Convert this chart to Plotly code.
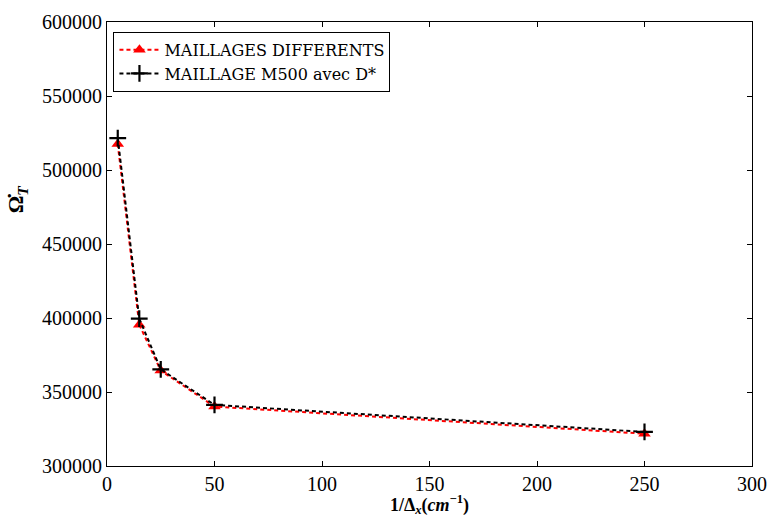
import plotly.graph_objects as go

x_vals = [5, 15, 25, 50, 250]
maillages_diff = [517500, 395500, 364500, 340200, 321800]
maillage_m500 = [521600, 399600, 365300, 341300, 323000]
x_ticks = [0, 50, 100, 150, 200, 250, 300]
y_ticks = [300000, 350000, 400000, 450000, 500000, 550000, 600000]

serif = "Liberation Serif"
legend_font = "DejaVu Serif"

fig = go.Figure()
fig.add_trace(go.Scatter(
    x=x_vals, y=maillages_diff, mode="lines+markers",
    name="MAILLAGES DIFFERENTS",
    line=dict(color="red", width=2, dash="4px,3px"),
    marker=dict(symbol="triangle-up", size=11, color="red"),
))
fig.add_trace(go.Scatter(
    x=x_vals, y=maillage_m500, mode="lines+markers",
    name="MAILLAGE M500 avec D*",
    line=dict(color="black", width=2, dash="4px,3px"),
    marker=dict(symbol="cross-thin", size=12, color="black",
                line=dict(color="black", width=2.2)),
))

axis_common = dict(
    showgrid=False, zeroline=False, showline=True, linecolor="black",
    linewidth=1, mirror="ticks", ticks="inside", ticklen=5,
    tickcolor="black", tickfont=dict(family=serif, size=20, color="black"),
    automargin=False,
)
fig.update_xaxes(range=[0, 300], tickvals=x_ticks, ticktext=[str(v) for v in x_ticks],
                 **axis_common)
fig.update_yaxes(range=[300000, 600000], tickvals=y_ticks, ticktext=[str(v) for v in y_ticks],
                 **axis_common)

fig.add_annotation(
    text="<b>1/Δ<sub><i>x</i></sub>(<i>cm</i><sup>−1</sup>)</b>",
    xref="paper", yref="paper", x=0.5, y=-0.087, xanchor="center", yanchor="middle",
    showarrow=False, font=dict(family=serif, size=18, color="black"),
)
fig.add_annotation(
    text="<b>Ω̇<sub><i>T</i></sub></b>",
    xref="paper", yref="paper", x=-0.14, y=0.6, xanchor="center", yanchor="middle",
    textangle=-90, showarrow=False, font=dict(family=serif, size=22, color="black"),
)

fig.update_layout(
    width=769, height=516,
    margin=dict(l=107, r=17, t=22, b=50),
    plot_bgcolor="white", paper_bgcolor="white",
    legend=dict(x=0.01, y=0.978, xanchor="left", yanchor="top",
                bgcolor="white", bordercolor="black", borderwidth=1,
                font=dict(family=legend_font, size=16, color="black"),
                tracegroupgap=0, itemwidth=40),
    showlegend=True,
)

fig.write_html("out.html", config={"displayModeBar": False},
               post_script="document.body.style.margin='0';document.body.style.overflow='hidden';")
